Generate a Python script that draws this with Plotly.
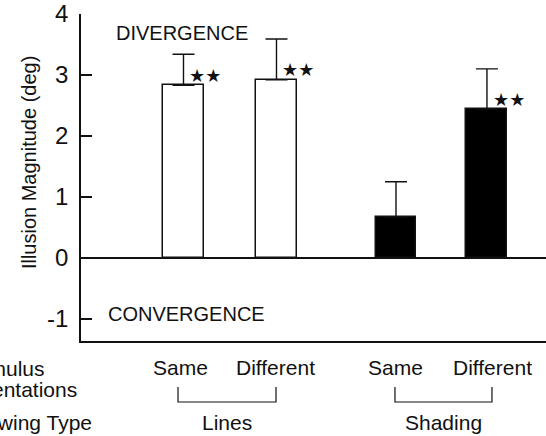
import plotly.graph_objects as go

# ---- data ----
conditions = ["Lines-Same", "Lines-Different", "Shading-Same", "Shading-Different"]
orientation_labels = ["Same", "Different", "Same", "Different"]
drawing_types = ["Lines", "Shading"]
magnitudes = [2.83, 2.92, 0.67, 2.44]
errors = [0.51, 0.67, 0.58, 0.66]
significant = [True, True, False, True]
bar_colors = ["white", "white", "black", "black"]
y_ticks = [-1, 0, 1, 2, 3, 4]

# ---- layout constants ----
x_pos = [1, 2, 3.285, 4.263]
bar_width = 0.44
FONT = "Liberation Sans, Arial, Helvetica, sans-serif"
INK = "#111111"

fig = go.Figure()
fig.add_trace(go.Bar(
    x=x_pos, y=magnitudes, width=bar_width,
    marker=dict(color=bar_colors, line=dict(color=INK, width=1.5)),
    error_y=dict(type="data", symmetric=False, array=errors,
                 arrayminus=[0] * len(errors), color=INK, thickness=1.4, width=11),
    hoverinfo="skip", showlegend=False,
))

annotations = []
# significance stars
for xp, v, e, s in zip(x_pos, magnitudes, errors, significant):
    if s:
        annotations.append(dict(x=xp, y=v, xref="x", yref="y", text="★★",
                                showarrow=False, xanchor="left", yanchor="middle",
                                xshift=4, yshift=10,
                                font=dict(family="DejaVu Sans", size=18, color=INK)))

annotations.append(dict(x=0.253, y=3.69, xref="x", yref="y", text="DIVERGENCE",
                        showarrow=False, xanchor="left", yanchor="middle",
                        font=dict(family=FONT, size=20, color=INK)))
annotations.append(dict(x=0.167, y=-0.92, xref="x", yref="y", text="CONVERGENCE",
                        showarrow=False, xanchor="left", yanchor="middle",
                        font=dict(family=FONT, size=20, color=INK)))

# orientation labels under the axis
label_shift = [-3, -1, 0, 6]
for xp, lab, sh in zip(x_pos, orientation_labels, label_shift):
    annotations.append(dict(x=xp, y=0, xref="x", yref="paper", text=lab,
                            showarrow=False, xanchor="center", yanchor="middle",
                            xshift=sh, yshift=-26,
                            font=dict(family=FONT, size=21, color=INK)))

# brackets + drawing type labels
brackets = [(0.941, 1.995), (3.274, 4.317)]
shapes = []
for (b0, b1), name in zip(brackets, drawing_types):
    shapes.append(dict(type="path", xref="x", yref="paper",
                       path=f"M {b0},-0.1407 L {b0},-0.1865 L {b1},-0.1865 L {b1},-0.1407",
                       line=dict(color=INK, width=1.2)))
    annotations.append(dict(x=(b0 + b1) / 2, y=0, xref="x", yref="paper", text=name,
                            showarrow=False, xanchor="center", yanchor="middle",
                            yshift=-81, font=dict(family=FONT, size=21, color=INK)))

# left side row labels (partly cut by the page edge, as in the original figure)
for text, ys in [("Stimulus", -27), ("Orientations", -48), ("Drawing Type", -81)]:
    annotations.append(dict(x=0, y=0, xref="paper", yref="paper", text=text,
                            showarrow=False, xanchor="left", yanchor="middle",
                            xshift=-119, yshift=ys,
                            font=dict(family=FONT, size=21, color=INK)))

# y axis title
annotations.append(dict(x=0, y=0.544, xref="paper", yref="paper",
                        text="Illusion Magnitude (deg)", textangle=-90,
                        showarrow=False, xanchor="center", yanchor="middle",
                        xshift=-52, font=dict(family=FONT, size=20, color=INK)))

fig.update_layout(
    width=546, height=436,
    margin=dict(l=81, r=0, t=14, b=95),
    paper_bgcolor="white", plot_bgcolor="white",
    annotations=annotations, shapes=shapes,
    bargap=0,
    xaxis=dict(range=[-0.102, 4.898], showline=True, linecolor=INK, linewidth=1.5,
               showticklabels=False, ticks="", showgrid=False, zeroline=False,
               fixedrange=True),
    yaxis=dict(range=[-1.36, 4], tickvals=y_ticks, ticktext=[str(t) for t in y_ticks],
               showline=True, linecolor=INK, linewidth=1.5,
               ticks="inside", ticklen=11, tickwidth=1.5, tickcolor=INK,
               showgrid=False, zeroline=True, zerolinecolor=INK, zerolinewidth=1.5,
               tickfont=dict(family=FONT, size=24, color=INK),
               ticklabelstandoff=6, fixedrange=True),
)

fig.write_html("out.html")
